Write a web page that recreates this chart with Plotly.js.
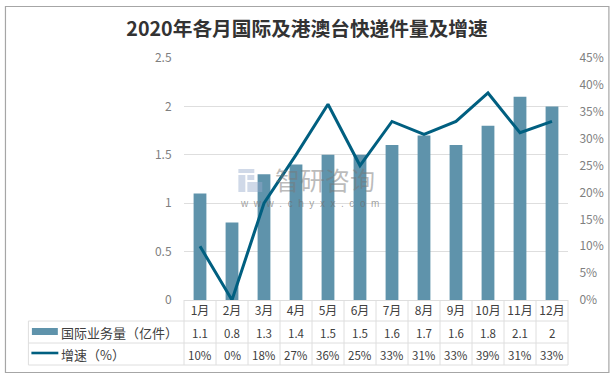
<!DOCTYPE html>
<html><head><meta charset="utf-8">
<script src="https://cdn.plot.ly/plotly-3.0.1.min.js"></script>
<style>html,body{margin:0;padding:0;background:#fff}#c{width:616px;height:376px}</style>
</head><body><div id="c"></div>
<script>
const months=['1月','2月','3月','4月','5月','6月','7月','8月','9月','10月','11月','12月'];
const volumeName='国际业务量（亿件）';
const growthName='增速（%）';
const volume=[1.1,0.8,1.3,1.4,1.5,1.5,1.6,1.7,1.6,1.8,2.1,2];
const volumeLabels=['1.1','0.8','1.3','1.4','1.5','1.5','1.6','1.7','1.6','1.8','2.1','2'];
const growth=[10,0,18,27,36.4,25,33.2,30.8,33.2,38.5,31.1,33.2];
const growthLabels=['10%','0%','18%','27%','36%','25%','33%','31%','33%','39%','31%','33%'];
const titleText='2020年各月国际及港澳台快递件量及增速';
const watermarkName='智研咨询';
const watermarkUrl='w\u00a0\u00a0w\u00a0\u00a0w\u00a0\u00a0.\u00a0\u00a0c\u00a0\u00a0h\u00a0\u00a0y\u00a0\u00a0x\u00a0\u00a0x\u00a0\u00a0.\u00a0\u00a0c\u00a0\u00a0o\u00a0\u00a0m';
const font='"Noto Sans CJK SC","Noto Sans",sans-serif';

const W=616,H=376,L=183.5,R=568.5,T=58,B=300;
const px=x=>(x-L)/(R-L), py=y=>(B-y)/(B-T);
const grid='#dedede';
const line=(x0,y0,x1,y1)=>({type:'line',xref:'paper',yref:'paper',x0:px(x0),x1:px(x1),y0:py(y0),y1:py(y1),line:{color:grid,width:1},layer:'below'});
const shapes=[];
// chart frame
shapes.push({type:'rect',xref:'paper',yref:'paper',x0:px(4.5),x1:px(609.5),y0:py(6.5),y1:py(372.5),line:{color:'#a6a6a6',width:1.2},layer:'below'});
// table rules
[321,343,365].forEach(y=>shapes.push(line(27.5,y,R,y)));
shapes.push(line(27.5,321,27.5,365));
for(let k=0;k<=12;k++) shapes.push(line(L+k*(R-L)/12,300,L+k*(R-L)/12,365));
// table legend keys
shapes.push({type:'rect',xref:'paper',yref:'paper',x0:px(31),x1:px(57),y0:py(328),y1:py(335),fillcolor:'#5f93ab',line:{width:0}});
shapes.push({type:'line',xref:'paper',yref:'paper',x0:px(30.5),x1:px(57.5),y0:py(353),y1:py(353),line:{color:'#005f80',width:2.6}});
// watermark logo
const wm='rgba(150,170,205,0.45)';
[[238,169,254,173],[238,175,245,192],[247,175,254,180],[247,182,262,192]].forEach(r=>shapes.push({type:'rect',xref:'paper',yref:'paper',x0:px(r[0]),x1:px(r[2]),y0:py(r[1]),y1:py(r[3]),fillcolor:wm,line:{width:0},layer:'above'}));

const ann=[];
const cell=(x,y,text)=>({xref:'x',yref:'paper',x:x,y:py(y),text:text,showarrow:false,xanchor:'center',yanchor:'middle',font:{family:font,size:11.5,color:'#404040'}});
months.forEach((m,i)=>{ann.push(cell(m,333,volumeLabels[i]));ann.push(cell(m,355,growthLabels[i]));});
const rowLabel=(y,text)=>({xref:'paper',yref:'paper',x:px(58),y:py(y),text:text,showarrow:false,xanchor:'left',yanchor:'middle',font:{family:font,size:13,color:'#404040'}});
ann.push(rowLabel(332,volumeName));
ann.push(rowLabel(354,growthName));
ann.push({xref:'paper',yref:'paper',x:px(325),y:py(179),text:watermarkName,showarrow:false,xanchor:'center',yanchor:'middle',font:{family:font,size:25,color:'rgba(120,120,120,0.5)'}});
ann.push({xref:'paper',yref:'paper',x:px(309),y:py(203),text:watermarkUrl,showarrow:false,xanchor:'center',yanchor:'middle',font:{family:'"Liberation Sans",sans-serif',size:10,color:'rgba(110,110,110,0.65)'}});

const tick={family:font,size:12,color:'#7f7f7f'};
Plotly.newPlot('c',[
 {type:'bar',name:volumeName,x:months,y:volume,marker:{color:'#5f93ab'},width:0.4,yaxis:'y',hoverinfo:'x+y'},
 {type:'scatter',mode:'lines',name:growthName,x:months,y:growth,line:{color:'#005f80',width:3},yaxis:'y2',cliponaxis:false}
],{
 width:W,height:H,showlegend:false,paper_bgcolor:'#fff',plot_bgcolor:'#fff',
 margin:{l:L,r:W-R,t:T,b:H-B,pad:0},
 title:{text:'<b>'+titleText+'</b>',x:307/W,xanchor:'center',y:1-29/H,yanchor:'middle',font:{family:font,size:19.7,color:'#333333'}},
 xaxis:{type:'category',categoryorder:'array',categoryarray:months,tickfont:{family:font,size:12,color:'#404040'},ticks:'',showline:true,linecolor:grid,linewidth:1,showgrid:false,zeroline:false,fixedrange:true},
 yaxis:{range:[0,2.5],tickvals:[0,0.5,1,1.5,2,2.5],ticktext:['0','0.5','1','1.5','2','2.5'],tickfont:tick,showgrid:true,gridcolor:grid,gridwidth:1,zeroline:false,showline:false,ticks:'outside',ticklen:9,tickcolor:'rgba(0,0,0,0)',fixedrange:true},
 yaxis2:{overlaying:'y',side:'right',range:[0,45],tickvals:[0,5,10,15,20,25,30,35,40,45],ticktext:['0%','5%','10%','15%','20%','25%','30%','35%','40%','45%'],tickfont:tick,showgrid:false,zeroline:false,showline:false,ticks:'outside',ticklen:8,tickcolor:'rgba(0,0,0,0)',fixedrange:true},
 shapes:shapes,annotations:ann
},{displayModeBar:false,staticPlot:true});
</script></body></html>
